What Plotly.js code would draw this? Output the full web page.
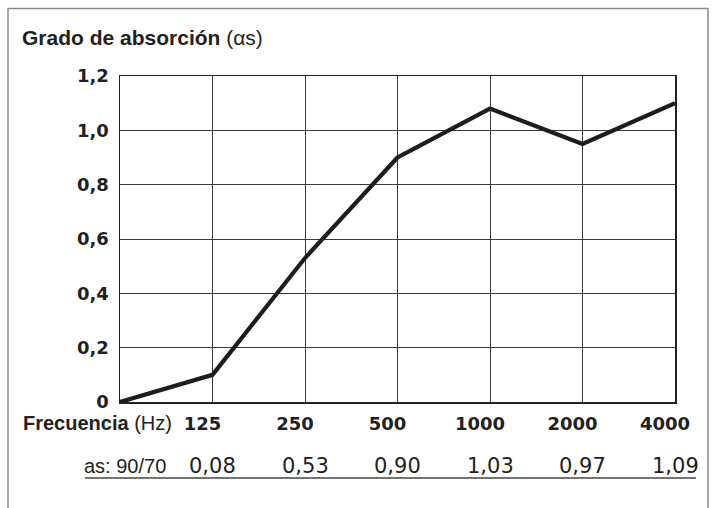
<!DOCTYPE html>
<html>
<head>
<meta charset="utf-8">
<script src="https://cdn.plot.ly/plotly-3.0.1.min.js"></script>
<style>
  html, body { margin: 0; padding: 0; background: #fff; }
  #chart { width: 715px; height: 508px; }
</style>
</head>
<body>
<div id="chart"></div>
<script>
// Data
const freqLabels = ['125', '250', '500', '1000', '2000', '4000'];
const absorption = [0, 0.10, 0.53, 0.90, 1.08, 0.95, 1.10]; // origin + 6 bands
const yTickVals = [0, 0.2, 0.4, 0.6, 0.8, 1.0, 1.2];
const yTickText = ['0', '0,2', '0,4', '0,6', '0,8', '1,0', '1,2'];
const asLabel = 'as: 90/70';
const asValues = ['0,08', '0,53', '0,90', '1,03', '0,97', '1,09'];

const W = 715, H = 508;
const M = { l: 120, r: 40, t: 76, b: 106 };
const pw = W - M.l - M.r, ph = H - M.t - M.b;
const px = x => (x - M.l) / pw;          // pixel x -> paper
const py = y => (H - M.b - y) / ph;      // pixel y -> paper

const xIdx = absorption.map((_, i) => i);
const tickIdx = freqLabels.map((_, i) => i + 1);

const trace = {
  x: xIdx,
  y: absorption,
  type: 'scatter',
  mode: 'lines',
  line: { color: '#1e1c1c', width: 4.2 },
  hoverinfo: 'skip'
};

const textColor = '#231f20';
const annotations = [
  {
    xref: 'paper', yref: 'paper', x: px(21), y: py(423),
    xanchor: 'left', yanchor: 'middle', showarrow: false,
    text: '<b>Frecuencia</b> (Hz)',
    font: { family: 'Liberation Sans, Arial, sans-serif', size: 20, color: textColor }
  },
  {
    xref: 'paper', yref: 'paper', x: px(82), y: py(466),
    xanchor: 'left', yanchor: 'middle', showarrow: false,
    text: asLabel,
    font: { family: 'Liberation Sans, Arial, sans-serif', size: 20, color: textColor }
  }
];
asValues.forEach((v, i) => {
  annotations.push({
    xref: 'x', yref: 'paper', x: tickIdx[i], y: py(466),
    xanchor: 'center', yanchor: 'middle', showarrow: false,
    text: v,
    font: { family: 'DejaVu Sans, sans-serif', size: 21, color: textColor }
  });
});

const shapes = [
  // outer frame (bottom edge outside window)
  {
    type: 'path', xref: 'paper', yref: 'paper',
    path: `M ${px(8)} ${py(520)} L ${px(8)} ${py(8.5)} L ${px(708)} ${py(8.5)} L ${px(708)} ${py(520)}`,
    line: { color: '#8a8a8a', width: 1.5 }
  },
  // underline of the value row
  {
    type: 'line', xref: 'paper', yref: 'paper',
    x0: px(85), x1: px(696), y0: py(478), y1: py(478),
    line: { color: '#444', width: 1.5 }
  }
];

const layout = {
  width: W, height: H,
  margin: M,
  paper_bgcolor: '#fff', plot_bgcolor: '#fff',
  showlegend: false,
  title: {
    text: '<b>Grado de absorción</b> (αs)',
    xref: 'container', yref: 'container',
    x: 22 / W, xanchor: 'left',
    y: 1 - 38 / H, yanchor: 'middle',
    font: { family: 'Liberation Sans, Arial, sans-serif', size: 21, color: textColor }
  },
  xaxis: {
    range: [0, freqLabels.length],
    tickmode: 'array', tickvals: tickIdx, ticktext: freqLabels,
    showgrid: true, gridcolor: '#3a3a3a', gridwidth: 1,
    zeroline: false,
    showline: true, mirror: true, linecolor: '#222', linewidth: 1.5,
    ticks: '', ticklabelstandoff: 5, ticklabelshift: -10,
    tickfont: { family: 'DejaVu Sans, sans-serif', size: 18, color: textColor, weight: 'bold' },
    fixedrange: true
  },
  yaxis: {
    range: [0, 1.2],
    tickmode: 'array', tickvals: yTickVals, ticktext: yTickText,
    showgrid: true, gridcolor: '#3a3a3a', gridwidth: 1,
    zeroline: false,
    showline: true, mirror: true, linecolor: '#222', linewidth: 1.5,
    ticks: '', ticklabelstandoff: 6,
    tickfont: { family: 'DejaVu Sans, sans-serif', size: 18, color: textColor, weight: 'bold' },
    fixedrange: true
  },
  annotations: annotations,
  shapes: shapes
};

Plotly.newPlot('chart', [trace], layout, { displayModeBar: false, staticPlot: true });
</script>
</body>
</html>
